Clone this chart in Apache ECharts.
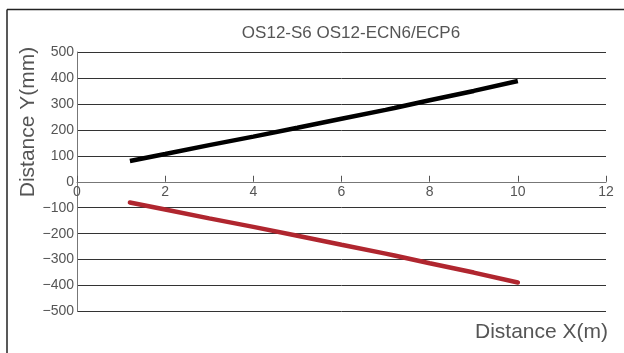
<!DOCTYPE html>
<html><head><meta charset="utf-8">
<script src="https://cdn.jsdelivr.net/npm/echarts@6/dist/echarts.min.js"></script>
<style>html,body{margin:0;padding:0;background:#fff}#c{width:624px;height:353px}</style>
</head><body><div id="c"></div>
<script>
const title = 'OS12-S6 OS12-ECN6/ECP6';
const xName = 'Distance X(m)';
const yName = 'Distance Y(mm)';
const xs = [1.2, 2, 3, 4, 5, 6, 7, 7.2, 8, 9, 10];
const upperY = [80, 107, 141, 174, 208, 243, 277, 284, 314, 350, 388];
const lowerY = [-80, -107, -141, -174, -208, -243, -277, -284, -314, -350, -388];
const xTicks = [0, 2, 4, 6, 8, 10, 12];
const yTicks = [-500, -400, -300, -200, -100, 0, 100, 200, 300, 400, 500];

const font = '"Liberation Sans", Arial, sans-serif';
const gridTop = 52, gridBottom = 41.5, H = 353;
const plotH = H - gridTop - gridBottom;
const zeroOffset = -plotH * (0 - yTicks[0]) / (yTicks[yTicks.length-1] - yTicks[0]);
const chart = echarts.init(document.getElementById('c'));
chart.setOption({
  animation: false,
  backgroundColor: '#fff',
  title: { text: title, left: 346, top: 20, textAlign: 'center',
    textStyle: { fontFamily: font, fontSize: 17, fontWeight: 'normal', color: '#555' } },
  grid: { left: 77, right: 18, top: gridTop, bottom: gridBottom },
  xAxis: { type: 'value', min: xTicks[0], max: xTicks[xTicks.length-1], interval: 2,
    position: 'bottom', offset: zeroOffset,
    axisLine: { onZero: false, lineStyle: { color: '#777', width: 1 } },
    axisTick: { inside: true, length: 6, lineStyle: { color: '#555' } },
    axisLabel: { fontFamily: font, fontSize: 14, color: '#555', margin: 3 },
    splitLine: { show: false } },
  yAxis: { type: 'value', min: yTicks[0], max: yTicks[yTicks.length-1], interval: 100,
    axisLine: { show: true, onZero: false, lineStyle: { color: '#777', width: 1 } },
    axisTick: { show: false },
    axisLabel: { fontFamily: font, fontSize: 14, color: '#555', margin: 3,
      formatter: v => String(v).replace('-', '\u2212') },
    splitLine: { show: true, lineStyle: { color: '#333', width: 1 } } },
  graphic: [
    { type: 'line', shape: { x1: 7, y1: 9.5, x2: 624, y2: 9.5 }, style: { stroke: '#222', lineWidth: 1.5 } },
    { type: 'line', shape: { x1: 7, y1: 9.5, x2: 7, y2: 353 }, style: { stroke: '#222', lineWidth: 1.5 } },
    { type: 'text', x: 28, y: 122, rotation: Math.PI/2,
      style: { text: yName, font: '21px ' + font, fill: '#555', textAlign: 'center', textVerticalAlign: 'middle' } },
    { type: 'text', x: 608, y: 332,
      style: { text: xName, font: '21px ' + font, fill: '#555', textAlign: 'right', textVerticalAlign: 'middle' } }
  ],
  series: [
    { type: 'line', data: xs.map((x, i) => [x, upperY[i]]), showSymbol: false,
      lineStyle: { color: '#000', width: 4.5, cap: 'butt' } },
    { type: 'line', data: xs.map((x, i) => [x, lowerY[i]]), showSymbol: false,
      lineStyle: { color: '#b0262f', width: 4.5, cap: 'round' } }
  ]
});
</script></body></html>
